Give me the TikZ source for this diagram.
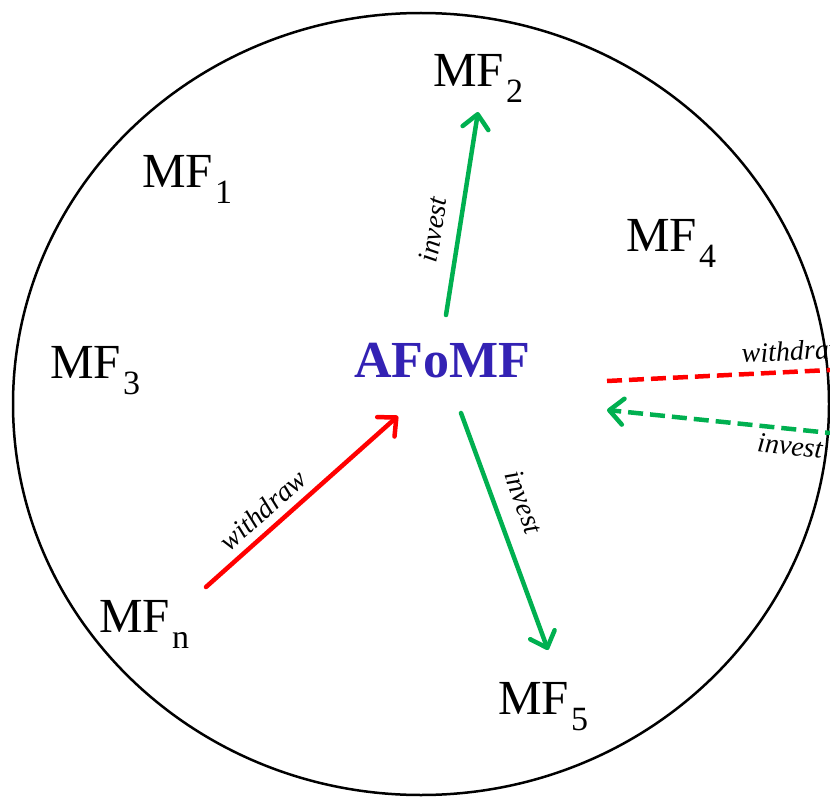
\documentclass[tikz,border=0pt]{standalone}
\usepackage{fontspec}
\setmainfont{Liberation Serif}
\usetikzlibrary{arrows.meta}
\definecolor{fgreen}{RGB}{0,176,80}
\definecolor{fred}{RGB}{255,0,0}
\definecolor{fblue}{RGB}{51,34,180}
\newcommand\mfsub[1]{\kern2pt\raisebox{-16pt}{\fontsize{34}{34}\selectfont #1}}
\begin{document}
\begin{tikzpicture}[x=1pt,y=-1pt,
  mf/.style={anchor=base west,inner sep=0pt,font=\fontsize{49}{49}\selectfont},
  lbl/.style={inner sep=0pt,font=\fontsize{28}{28}\selectfont\itshape},
  arr/.style={line width=4.5pt,line cap=round,-{Straight Barb[length=14pt,width=26pt,round]}},
  dashline/.style={line width=4.5pt,dash pattern=on 15pt off 7pt}
]
\useasboundingbox (0,0) rectangle (830,797);
\clip (0,0) rectangle (830,797);
\fill[white] (0,0) rectangle (830,797);
\draw[line width=2.5pt] (421,404) ellipse [x radius=408, y radius=391];

\node[mf] (mf1) at (142,187) {MF\mfsub{1}};
\node[mf] (mf2) at (433,87) {MF\mfsub{2}};
\node[mf] (mf3) at (50,378) {MF\mfsub{3}};
\node[mf] (mf4) at (626,251) {MF\mfsub{4}};
\node[mf] (mfn) at (99,632) {MF\mfsub{n}};
\node[mf] (mf5) at (498,714) {MF\mfsub{5}};
\node[anchor=base west,inner sep=0pt,font=\fontsize{52}{52}\selectfont\bfseries,text=fblue] (afomf) at (354,377) {AFoMF};

\coordinate (a2s) at (446,315);
\coordinate (a2e) at (478,112);
\coordinate (ans) at (206,587);
\coordinate (ane) at (398,416);
\coordinate (a5s) at (461,413);
\coordinate (a5e) at (548,650);
\coordinate (rws) at (607,381);
\coordinate (rwe) at (840,369.5);
\coordinate (gis) at (840,434);
\coordinate (gie) at (607,410);

\draw[arr,fgreen] (a2s) -- (a2e);
\draw[arr,fred] (ans) -- (ane);
\draw[arr,fgreen] (a5s) -- (a5e);
\draw[dashline,fred] (rws) -- (rwe);
\draw[dashline,fgreen,-{Straight Barb[length=14pt,width=26pt,round]}] (gis) -- (gie);

\node[lbl,rotate=81] (l1) at (433,230) {invest};
\node[lbl,rotate=41.7] (l2) at (263,510) {withdraw};
\node[lbl,rotate=-70] (l3) at (524,502) {invest};
\node[lbl,rotate=2.8,anchor=base west] (l4) at (742,363) {withdraw};
\node[lbl,rotate=-5.9] (l5) at (790,446) {invest};
\end{tikzpicture}
\end{document}
